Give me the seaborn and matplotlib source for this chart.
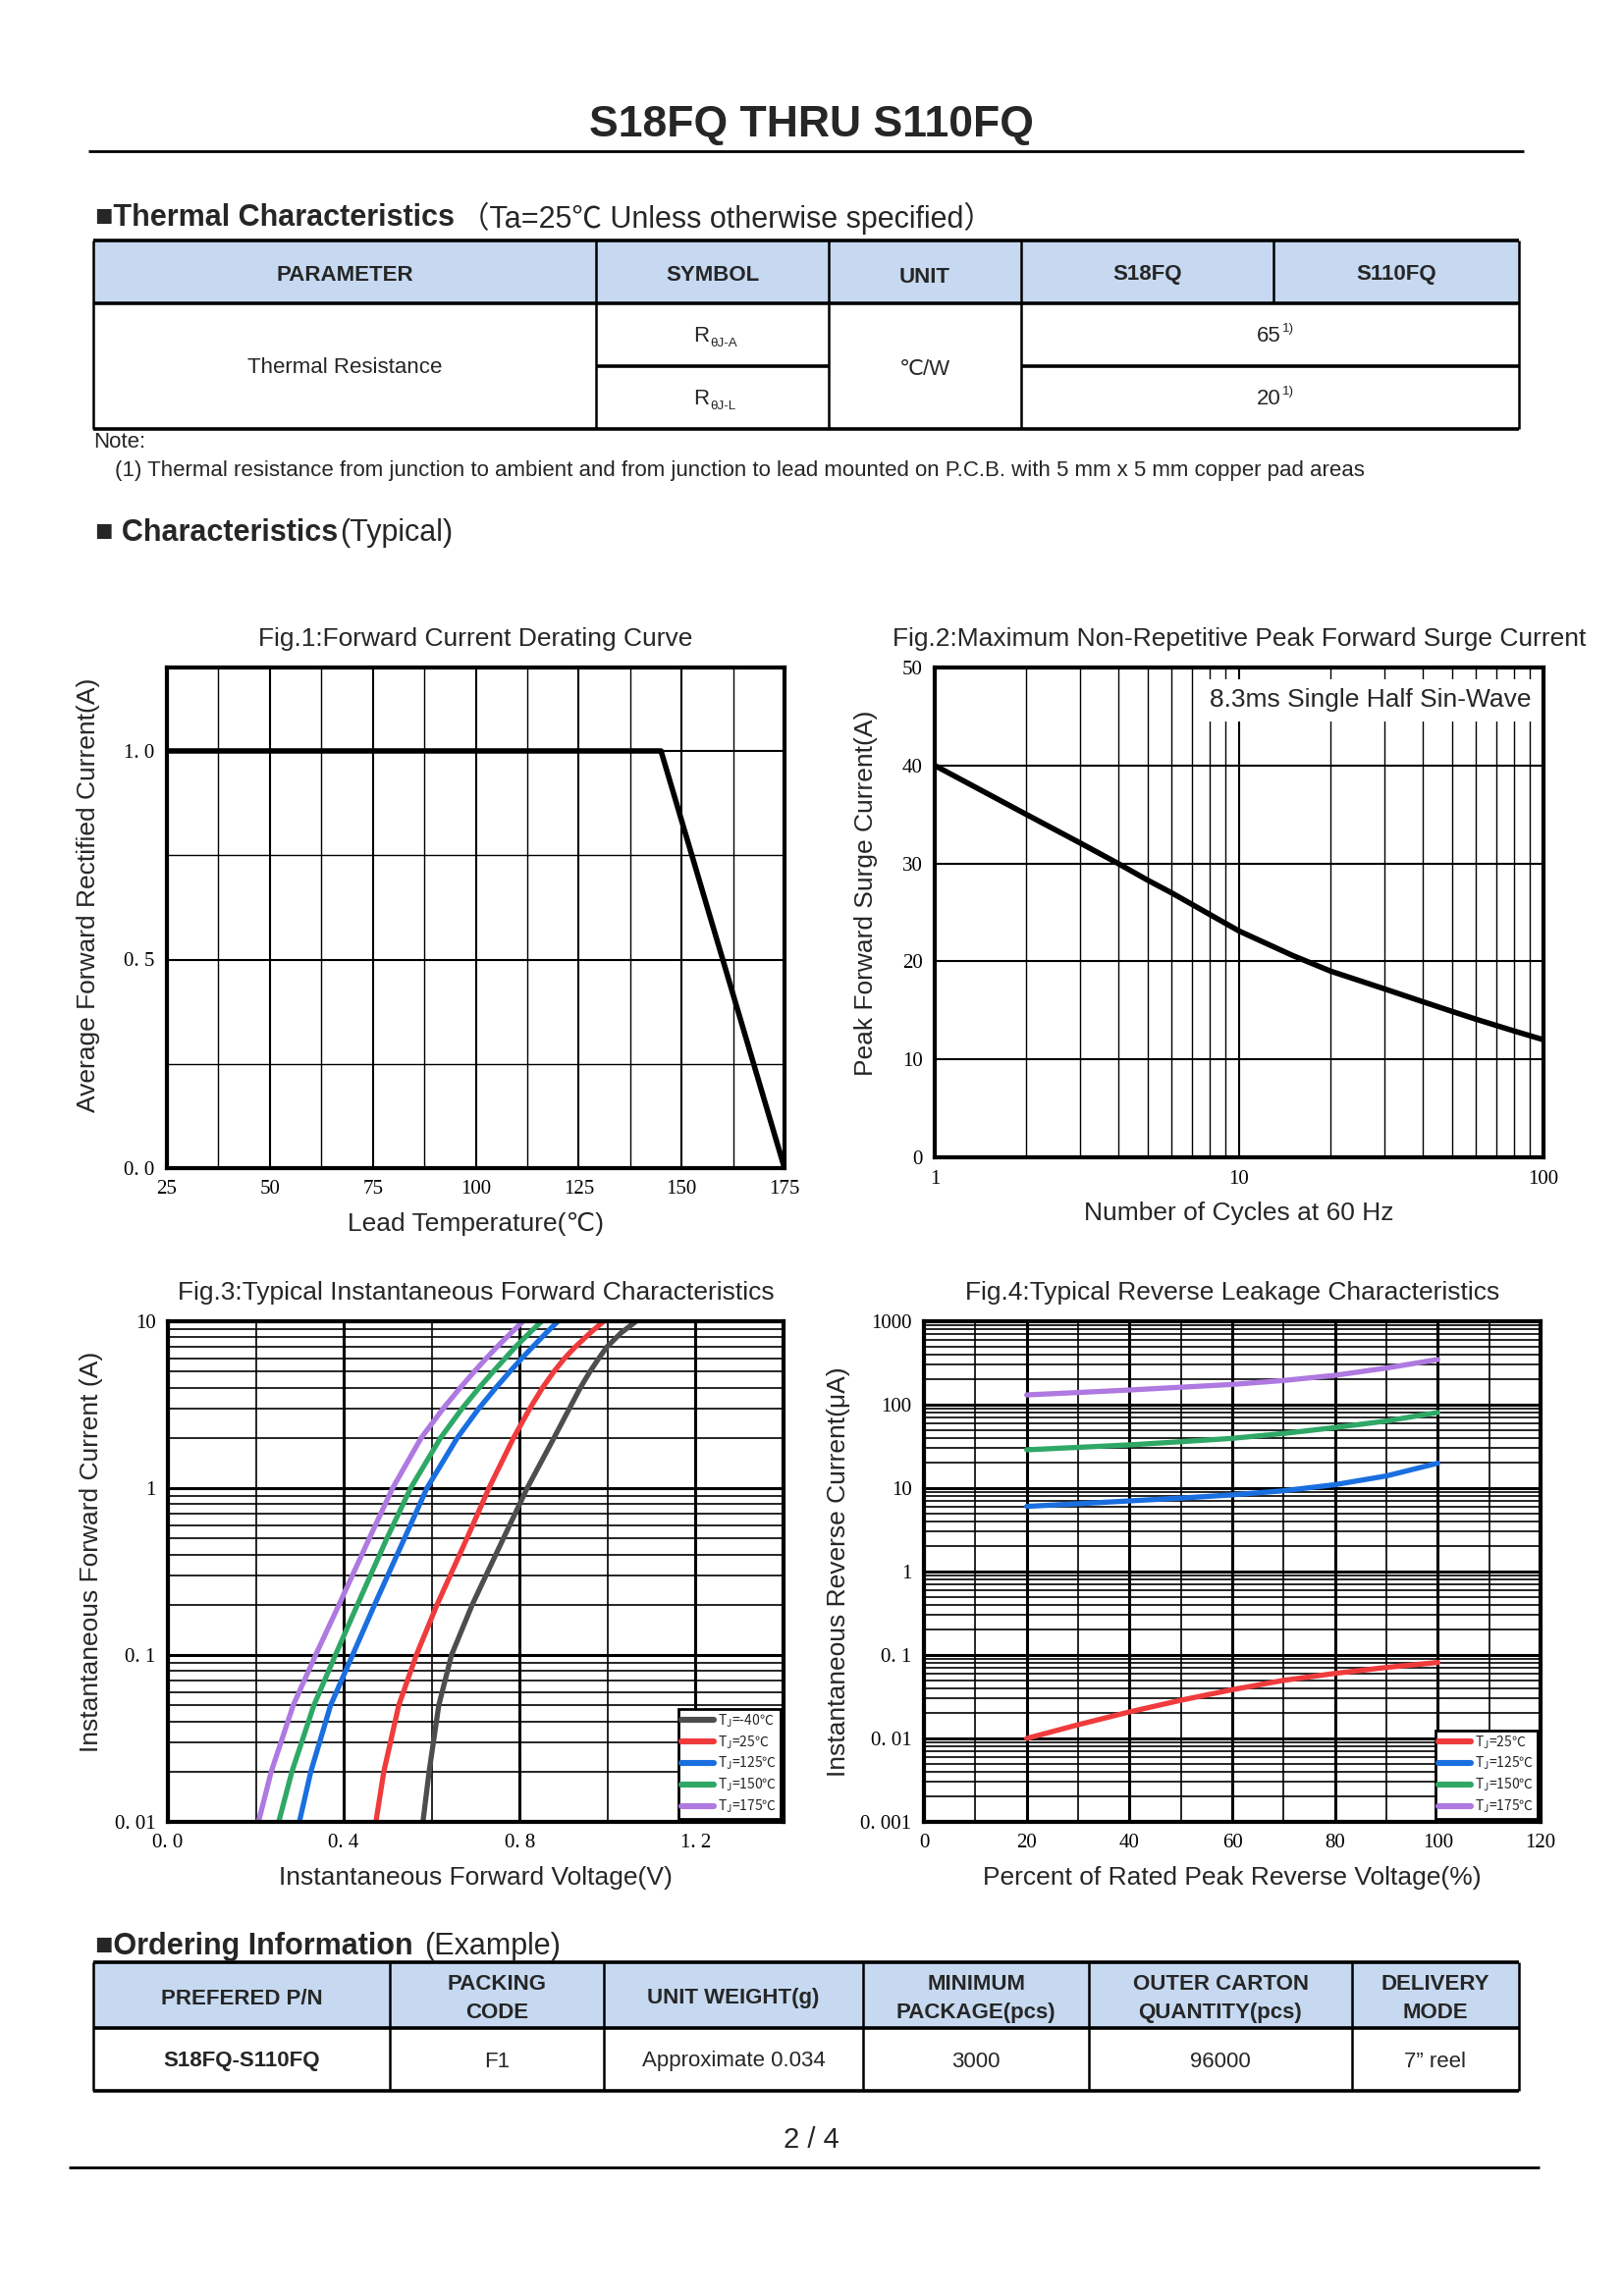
import matplotlib
matplotlib.use("Agg")
import matplotlib.pyplot as plt
from matplotlib.patches import Rectangle
from matplotlib.ticker import MultipleLocator, LogLocator, NullFormatter
import pandas as pd
import seaborn as sns

# ---------------- data ----------------
# Fig.1 derating curve
derating_temp = [25, 145, 175]
derating_current = [1.0, 1.0, 0.0]
fig1_xticks = [25, 50, 75, 100, 125, 150, 175]
fig1_yticks = [0.0, 0.5, 1.0]
fig1_ylabels = ["0. 0", "0. 5", "1. 0"]

# Fig.2 surge current
surge_cycles = [1, 2, 3, 4, 5, 6, 8, 10, 15, 20, 30, 40, 50, 60, 80, 100]
surge_current = [40.0, 35.0, 32.1, 30.0, 28.3, 27.0, 24.8, 23.1, 20.6, 19.0, 17.2, 15.9, 14.9, 14.1, 12.9, 12.0]
fig2_yticks = [0, 10, 20, 30, 40, 50]
fig2_xticks = [1, 10, 100]

# Fig.3 forward characteristics (current levels shared, voltage per junction temp)
fwd_current = [0.01, 0.02, 0.05, 0.1, 0.2, 0.5, 1, 2, 3, 4, 5, 6, 7, 8.5, 10]
fwd_v_m40 = [0.580, 0.594, 0.616, 0.645, 0.692, 0.763, 0.817, 0.878, 0.913, 0.938, 0.960, 0.980, 0.998, 1.030, 1.065]
fwd_v_25 = [0.473, 0.491, 0.525, 0.565, 0.612, 0.680, 0.730, 0.786, 0.823, 0.852, 0.878, 0.902, 0.926, 0.960, 0.991]
fwd_v_125 = [0.299, 0.325, 0.370, 0.420, 0.470, 0.538, 0.589, 0.658, 0.707, 0.746, 0.778, 0.805, 0.829, 0.860, 0.887]
fwd_v_150 = [0.252, 0.282, 0.332, 0.381, 0.431, 0.498, 0.552, 0.620, 0.669, 0.708, 0.740, 0.767, 0.790, 0.822, 0.850]
fwd_v_175 = [0.206, 0.235, 0.285, 0.336, 0.389, 0.458, 0.511, 0.576, 0.626, 0.665, 0.697, 0.724, 0.748, 0.780, 0.808]
fig3_xticks = [0.0, 0.4, 0.8, 1.2]
fig3_xlabels = ["0. 0", "0. 4", "0. 8", "1. 2"]
fig3_yticks = [0.01, 0.1, 1, 10]
fig3_ylabels = ["0. 01", "0. 1", "1", "10"]

# Fig.4 reverse leakage
rev_pct = [20, 30, 40, 50, 60, 70, 80, 90, 100]
rev_i_25 = [0.010, 0.0146, 0.0208, 0.0287, 0.0384, 0.0497, 0.0602, 0.071, 0.0814]
rev_i_125 = [6.04, 6.5, 7.03, 7.6, 8.3, 9.3, 11.0, 14.0, 19.9]
rev_i_150 = [28.8, 30.8, 33.0, 36.0, 39.5, 45.2, 53.2, 63.8, 80.7]
rev_i_175 = [131, 140, 150, 162, 175, 195, 225, 275, 348]
fig4_xticks = [0, 20, 40, 60, 80, 100, 120]
fig4_yticks = [0.001, 0.01, 0.1, 1, 10, 100, 1000]
fig4_ylabels = ["0. 001", "0. 01", "0. 1", "1", "10", "100", "1000"]

temp_labels = ["T$_\\mathregular{J}$=-40℃", "T$_\\mathregular{J}$=25℃", "T$_\\mathregular{J}$=125℃",
               "T$_\\mathregular{J}$=150℃", "T$_\\mathregular{J}$=175℃"]
temp_colors = ["#4D4D4D", "#F03B3D", "#1A6FE0", "#2FA866", "#AE79E0"]

# tables
thermal_header = ["PARAMETER", "SYMBOL", "UNIT", "S18FQ", "S110FQ"]
thermal_values = ["65", "20"]
order_header = ["PREFERED P/N", "PACKING\nCODE", "UNIT WEIGHT(g)", "MINIMUM\nPACKAGE(pcs)",
                "OUTER CARTON\nQUANTITY(pcs)", "DELIVERY\nMODE"]
order_row = ["S18FQ-S110FQ", "F1", "Approximate 0.034", "3000", "96000", "7\u201d reel"]

# ---------------- style ----------------
sns.set_theme(style="white")
plt.rcParams["font.family"] = ["Liberation Sans", "DejaVu Sans", "Noto Sans CJK SC"]
TICKFONT = "Liberation Serif"
HEAD_BLUE = "#C6D9F1"
FS = 8  # table / note text size

W, H = 1654, 2339
fig = plt.figure(figsize=(W / 200, H / 200), dpi=200)
fig.patch.set_facecolor("white")

page = fig.add_axes([0, 0, 1, 1])
page.set_xlim(0, W)
page.set_ylim(H, 0)
page.axis("off")


def line(x0, x1, y0, y1, lw=1.0):
    page.plot([x0, x1], [y0, y1], color="black", lw=lw, solid_capstyle="butt")


# title
page.text(826, 127, "S18FQ THRU S110FQ", ha="center", va="center", fontsize=16, fontweight="bold")
line(90, 1552, 154, 154, 1.0)

# thermal heading
page.text(97, 222, "■Thermal Characteristics", ha="left", va="center", fontsize=11, fontweight="bold")
page.text(468, 222, "（Ta=25℃ Unless otherwise specified）", ha="left", va="center", fontsize=11,
          family=["Liberation Sans", "Noto Sans CJK SC"])

# thermal table
t_cols = [95, 607, 844, 1040, 1297, 1547]
t_top, t_head, t_mid, t_bot = 245, 309, 373, 437
page.add_patch(Rectangle((t_cols[0], t_top), t_cols[-1] - t_cols[0], t_head - t_top,
                         facecolor=HEAD_BLUE, edgecolor="none"))
for y in (t_top, t_head, t_bot):
    line(t_cols[0], t_cols[-1], y, y, 1.3)
line(t_cols[1], t_cols[2], t_mid, t_mid, 1.3)
line(t_cols[3], t_cols[5], t_mid, t_mid, 1.3)
for x in (t_cols[0], t_cols[1], t_cols[2], t_cols[3], t_cols[5]):
    line(x, x, t_top, t_bot, 0.9)
line(t_cols[4], t_cols[4], t_top, t_head, 0.9)
for i, name in enumerate(thermal_header):
    page.text((t_cols[i] + t_cols[i + 1]) / 2, 282 if name == "UNIT" else 280, name,
              ha="center", va="center", fontsize=FS, fontweight="bold")
page.text((t_cols[0] + t_cols[1]) / 2, 375, "Thermal Resistance", ha="center", va="center", fontsize=FS)
for y, sub in ((342, "θJ-A"), (406, "θJ-L")):
    page.text(722, y, "R", ha="right", va="center", fontsize=FS)
    page.text(723, y + 8, sub, ha="left", va="center", fontsize=4.8)
page.text((t_cols[2] + t_cols[3]) / 2, 377, "℃/W", ha="center", va="center", fontsize=FS)
for y, val in zip((342, 406), thermal_values):
    page.text(1305, y, val, ha="right", va="center", fontsize=FS)
    page.text(1306, y - 7, "1)", ha="left", va="center", fontsize=4.8)

page.text(95, 451, "Note:", ha="left", va="center", fontsize=FS)
page.text(117, 480, "(1) Thermal resistance from junction to ambient and from junction to lead mounted on "
          "P.C.B. with 5 mm x 5 mm copper pad areas", ha="left", va="center", fontsize=FS)

# characteristics heading
page.text(97, 543, "■ Characteristics", ha="left", va="center", fontsize=11, fontweight="bold")
page.text(346, 543, "(Typical)", ha="left", va="center", fontsize=11)


def new_axes(left, top, right, bottom):
    ax = fig.add_axes([left / W, 1 - bottom / H, (right - left) / W, (bottom - top) / H])
    for s in ax.spines.values():
        s.set_color("black")
        s.set_linewidth(1.5)
    ax.tick_params(which="both", length=0, pad=4.5, labelsize=7.5, colors="black")
    return ax


def style_grid(ax, major_lw=0.75, minor_lw=0.5):
    ax.grid(which="major", color="black", lw=major_lw)
    ax.grid(which="minor", color="black", lw=minor_lw)
    ax.set_axisbelow(True)


def tick_fonts(ax):
    for lab in ax.get_xticklabels() + ax.get_yticklabels():
        lab.set_fontfamily(TICKFONT)
        lab.set_fontsize(7.5)


def curve_legend(ax):
    leg = ax.legend(loc="lower right", frameon=True, fancybox=False, edgecolor="black",
                    framealpha=1, handlelength=2.4, handletextpad=0.25, borderpad=0.25,
                    labelspacing=0.32, borderaxespad=0.25,
                    prop={"family": "Noto Sans CJK SC", "size": 5})
    leg.get_frame().set_linewidth(1.0)
    for h in leg.get_lines():
        h.set_linewidth(2.2)


# ---- Fig.1 ----
ax1 = new_axes(170, 680, 799, 1190)
sns.lineplot(x=derating_temp, y=derating_current, ax=ax1, color="black", lw=2.0)
ax1.set_xlim(25, 175)
ax1.set_ylim(0, 1.2)
ax1.set_xticks(fig1_xticks)
ax1.set_yticks(fig1_yticks, fig1_ylabels)
ax1.xaxis.set_minor_locator(MultipleLocator(12.5))
ax1.yaxis.set_minor_locator(MultipleLocator(0.25))
style_grid(ax1)
tick_fonts(ax1)
ax1.set_title("Fig.1:Forward Current Derating Curve", fontsize=9.5, pad=8)
ax1.set_xlabel("Lead Temperature(℃)", fontsize=9.5, labelpad=5)
ax1.set_ylabel("Average Forward Rectified Current(A)", fontsize=9.5)
ax1.yaxis.set_label_coords(-0.108, 0.545)

# ---- Fig.2 ----
ax2 = new_axes(952, 680, 1572, 1179)
sns.lineplot(x=surge_cycles, y=surge_current, ax=ax2, color="black", lw=2.0)
ax2.set_xscale("log")
ax2.set_xlim(1, 100)
ax2.set_ylim(0, 50)
ax2.set_xticks(fig2_xticks, [str(v) for v in fig2_xticks])
ax2.set_yticks(fig2_yticks, [str(v) for v in fig2_yticks])
ax2.xaxis.set_minor_locator(LogLocator(base=10, subs=range(2, 10)))
ax2.xaxis.set_minor_formatter(NullFormatter())
style_grid(ax2)
tick_fonts(ax2)
ax2.text(0.98, 0.957, "8.3ms Single Half Sin-Wave", transform=ax2.transAxes, ha="right", va="top",
         fontsize=9.5, bbox=dict(facecolor="white", edgecolor="none", pad=3.5), zorder=5)
ax2.set_title("Fig.2:Maximum Non-Repetitive Peak Forward Surge Current", fontsize=9.5, pad=8)
ax2.set_xlabel("Number of Cycles at 60 Hz", fontsize=9.5, labelpad=5)
ax2.set_ylabel("Peak Forward Surge Current(A)", fontsize=9.5)
ax2.yaxis.set_label_coords(-0.093, 0.54)

# ---- Fig.3 ----
fwd_df = pd.concat([
    pd.DataFrame({"V": v, "I": fwd_current, "T": lab})
    for v, lab in zip([fwd_v_m40, fwd_v_25, fwd_v_125, fwd_v_150, fwd_v_175], temp_labels)
])
ax3 = new_axes(171, 1346, 798, 1856)
sns.lineplot(data=fwd_df, x="V", y="I", hue="T", hue_order=temp_labels,
             palette=dict(zip(temp_labels, temp_colors)), ax=ax3, lw=1.9, sort=False,
             estimator=None, errorbar=None)
ax3.set_yscale("log")
ax3.set_xlim(0, 1.4)
ax3.set_ylim(0.01, 10)
ax3.set_xticks(fig3_xticks, fig3_xlabels)
ax3.set_yticks(fig3_yticks, fig3_ylabels)
ax3.xaxis.set_minor_locator(MultipleLocator(0.2))
ax3.yaxis.set_minor_locator(LogLocator(base=10, subs=range(2, 10)))
ax3.yaxis.set_minor_formatter(NullFormatter())
style_grid(ax3, major_lw=1.1, minor_lw=0.6)
tick_fonts(ax3)
ax3.set_title("Fig.3:Typical Instantaneous Forward Characteristics", fontsize=9.5, pad=8)
ax3.set_xlabel("Instantaneous Forward Voltage(V)", fontsize=9.5, labelpad=5)
ax3.set_ylabel("Instantaneous Forward Current (A)", fontsize=9.5)
ax3.yaxis.set_label_coords(-0.105, 0.54)
curve_legend(ax3)

# ---- Fig.4 ----
rev_labels = temp_labels[1:]
rev_df = pd.concat([
    pd.DataFrame({"P": rev_pct, "I": v, "T": lab})
    for v, lab in zip([rev_i_25, rev_i_125, rev_i_150, rev_i_175], rev_labels)
])
ax4 = new_axes(941, 1346, 1569, 1856)
sns.lineplot(data=rev_df, x="P", y="I", hue="T", hue_order=rev_labels,
             palette=dict(zip(rev_labels, temp_colors[1:])), ax=ax4, lw=1.9,
             estimator=None, errorbar=None)
ax4.set_yscale("log")
ax4.set_xlim(0, 120)
ax4.set_ylim(0.001, 1000)
ax4.set_xticks(fig4_xticks, [str(v) for v in fig4_xticks])
ax4.set_yticks(fig4_yticks, fig4_ylabels)
ax4.xaxis.set_minor_locator(MultipleLocator(10))
ax4.yaxis.set_minor_locator(LogLocator(base=10, subs=range(2, 10)))
ax4.yaxis.set_minor_formatter(NullFormatter())
style_grid(ax4, major_lw=1.1, minor_lw=0.6)
tick_fonts(ax4)
ax4.set_title("Fig.4:Typical Reverse Leakage Characteristics", fontsize=9.5, pad=8)
ax4.set_xlabel("Percent of Rated Peak Reverse Voltage(%)", fontsize=9.5, labelpad=5)
ax4.set_ylabel("Instantaneous Reverse Current(μA)", fontsize=9.5)
ax4.yaxis.set_label_coords(-0.12, 0.5)
curve_legend(ax4)

# ordering information
page.text(97, 1983, "■Ordering Information", ha="left", va="center", fontsize=11, fontweight="bold")
page.text(432, 1983, "(Example)", ha="left", va="center", fontsize=11)

o_cols = [95, 397, 615, 879, 1109, 1377, 1547]
o_top, o_head, o_bot = 1999, 2066, 2130
page.add_patch(Rectangle((o_cols[0], o_top), o_cols[-1] - o_cols[0], o_head - o_top,
                         facecolor=HEAD_BLUE, edgecolor="none"))
for y in (o_top, o_head, o_bot):
    line(o_cols[0], o_cols[-1], y, y, 1.3)
for x in o_cols:
    line(x, x, o_top, o_bot, 0.9)
for i, name in enumerate(order_header):
    page.text((o_cols[i] + o_cols[i + 1]) / 2, 2036, name, ha="center", va="center",
              fontsize=FS, fontweight="bold", linespacing=1.45)
for i, val in enumerate(order_row):
    page.text((o_cols[i] + o_cols[i + 1]) / 2, 2100, val, ha="center", va="center",
              fontsize=FS, fontweight="bold" if i == 0 else "normal")

page.text(826, 2180, "2 / 4", ha="center", va="center", fontsize=10.5)
line(70, 1568, 2208, 2208, 1.0)

fig.savefig("out.png", dpi=200, facecolor="white")
